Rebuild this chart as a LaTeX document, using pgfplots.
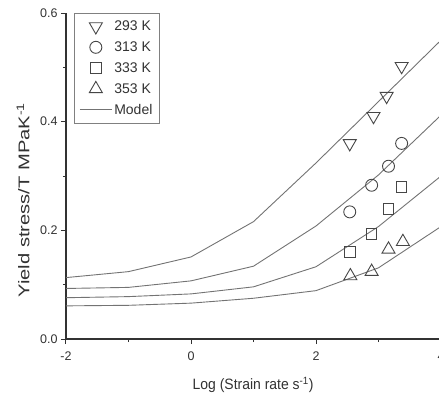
\documentclass[border=0pt]{standalone}
\usepackage{fontspec}
\setmainfont{Liberation Sans}
\newfontfamily\xlabfont{Liberation Sans}[FakeStretch=0.93]
\newfontfamily\ylabfont{Liberation Sans}[FakeStretch=1.3]
\usepackage{pgfplots}
\pgfplotsset{compat=1.18}
\definecolor{modelgray}{RGB}{115,115,115}
\definecolor{markgray}{RGB}{70,70,70}
\definecolor{axisgray}{RGB}{50,50,50}
\pgfplotsset{
  markleg/.style={legend image code/.code={\path (0pt,0pt) (32pt,0pt); \draw[##1] plot coordinates {(16pt,0pt)};}},
  lineleg/.style={legend image code/.code={\draw[##1] (0pt,0pt) -- (32pt,0pt);}},
}
\begin{document}
\begin{tikzpicture}
\begin{axis}[
  at={(0,0)}, anchor=south west,
  scale only axis, width=375pt, height=326pt,
  xmin=-2, xmax=4, ymin=0, ymax=0.6,
  axis x line*=bottom, axis y line*=left,
  axis line style={-, line width=1.2pt, axisgray},
  xtick={-2,0,2,4}, ytick={0,0.2,0.4,0.6},
  minor x tick num=1, minor y tick num=1,
  tick align=outside, major tick length=5pt, minor tick length=3pt,
  every tick/.style={axisgray, line width=1pt},
  /pgf/number format/assume math mode=true,
  tick label style={font=\fontsize{12.5}{14}\selectfont, text=axisgray},
  yticklabel style={/pgf/number format/.cd, fixed, fixed zerofill, precision=1},
  xticklabel style={/pgf/number format/.cd, fixed, precision=0, /tikz/yshift=-4pt},
  xlabel={Log (Strain rate s\textsuperscript{-1})},
  ylabel={Yield stress/T MPaK\textsuperscript{-1}},
  x label style={font=\xlabfont\fontsize{15}{17}\selectfont, at={(axis description cs:0.499,-0.141)}, anchor=center, text=axisgray},
  y label style={font=\ylabfont\fontsize{15.5}{17}\selectfont, at={(axis description cs:-0.1147,0.426)}, anchor=center, text=axisgray},
  legend style={at={(rel axis cs:0.0213,1)}, anchor=north west, draw=gray, line width=0.8pt,
    font=\fontsize{14}{16}\selectfont, text=axisgray, row sep=5.5pt, inner xsep=5pt, inner ysep=5.5pt},
  legend cell align=left,
  clip=false,
]
\addplot[only marks, mark=triangle, mark size=7.5pt, mark options={rotate=180, draw=markgray, fill=none, line width=0.9pt}, markleg]
  coordinates {(2.54,0.360) (2.92,0.410) (3.13,0.447) (3.37,0.502)};
\addlegendentry{293 K}
\addplot[only marks, mark=o, mark size=6pt, mark options={draw=markgray, fill=none, line width=0.9pt}, markleg]
  coordinates {(2.54,0.234) (2.89,0.283) (3.16,0.318) (3.37,0.360)};
\addlegendentry{313 K}
\addplot[only marks, mark=square, mark size=5.3pt, mark options={draw=markgray, fill=none, line width=0.9pt}, markleg]
  coordinates {(2.54,0.160) (2.89,0.193) (3.16,0.239) (3.37,0.280)};
\addlegendentry{333 K}
\addplot[only marks, mark=triangle, mark size=7.5pt, mark options={draw=markgray, fill=none, line width=0.9pt}, markleg]
  coordinates {(2.55,0.116) (2.89,0.124) (3.16,0.165) (3.39,0.179)};
\addlegendentry{353 K}
\addplot[modelgray, line width=0.9pt, mark=none, lineleg]
  coordinates {(-2,0.113) (-1,0.124) (0,0.151) (1,0.216) (2,0.324) (3,0.437) (4,0.550)};
\addlegendentry{Model}
\addplot[modelgray, line width=0.9pt, mark=none, forget plot]
  coordinates {(-2,0.093) (-1,0.095) (0,0.107) (1,0.134) (2,0.208) (3,0.302) (4,0.412)};
\addplot[modelgray, line width=0.9pt, mark=none, forget plot]
  coordinates {(-2,0.076) (-1,0.078) (0,0.083) (1,0.096) (2,0.133) (3,0.207) (4,0.300)};
\addplot[modelgray, line width=0.9pt, mark=none, forget plot]
  coordinates {(-2,0.061) (-1,0.062) (0,0.066) (1,0.075) (2,0.089) (3,0.131) (4,0.207)};
\end{axis}
\pgfresetboundingbox
\path[use as bounding box] (-66pt,-60pt) rectangle (373pt,339pt);
\end{tikzpicture}
\end{document}
